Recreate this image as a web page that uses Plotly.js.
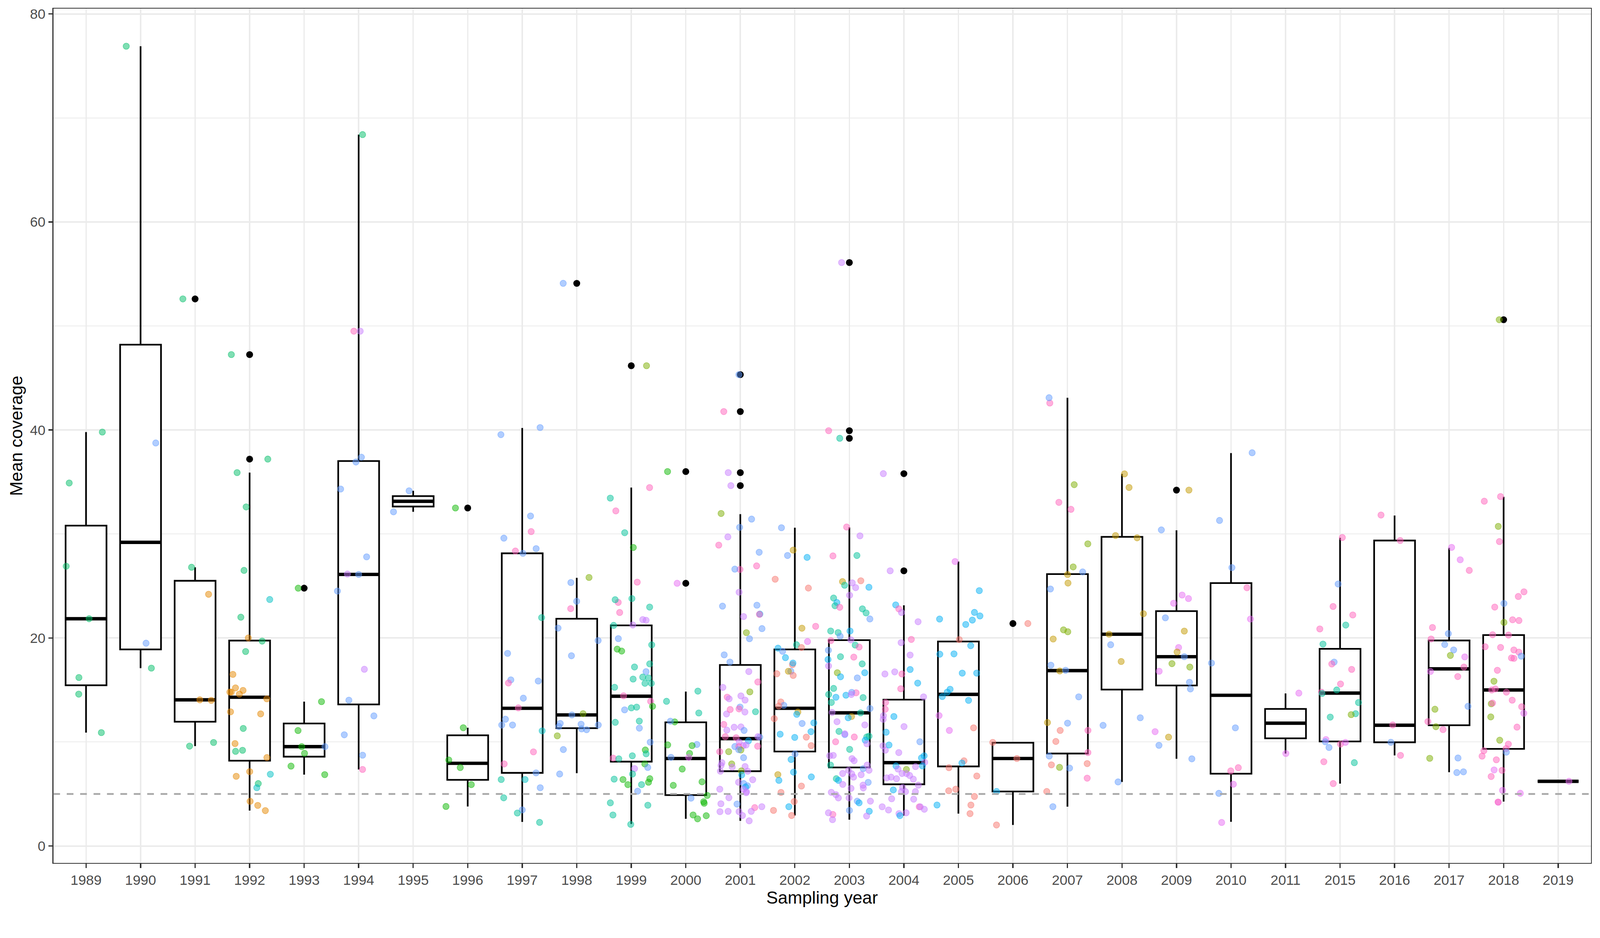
<!DOCTYPE html>
<html>
<head>
<meta charset="utf-8">
<script src="https://cdn.plot.ly/plotly-3.0.1.min.js"></script>
<style>html,body{margin:0;padding:0;background:#fff;overflow:hidden;}#chart{width:4200px;height:2400px;transform-origin:0 0;}</style>
</head>
<body>
<div id="chart"></div>
<script>
// ---------- data ----------
const years = ['1989','1990','1991','1992','1993','1994','1995','1996','1997','1998','1999','2000','2001','2002','2003','2004','2005','2006','2007','2008','2009','2010','2011','2015','2016','2017','2018','2019'];

// box statistics (lower whisker, Q1, median, Q3, upper whisker)
const boxQ1  = [15.45,18.9,11.95,8.2,8.59,13.61,32.64,6.36,7.03,11.33,8.11,4.89,7.19,9.08,7.55,5.93,7.65,5.24,8.89,15.04,15.43,6.95,10.35,10.05,9.97,11.61,9.34,6.22];
const boxMed = [21.85,29.2,14.05,14.3,9.55,26.11,33.14,7.95,13.24,12.6,14.4,8.41,10.32,13.24,12.8,8.01,14.58,8.41,16.86,20.36,18.2,14.49,11.81,14.7,11.61,17.03,15.0,6.22];
const boxQ3  = [30.8,48.2,25.5,19.75,11.78,37.01,33.64,10.64,28.14,21.85,21.21,11.89,17.41,18.9,19.79,14.07,19.66,9.93,26.14,29.72,22.58,25.28,13.18,18.96,29.37,19.76,20.28,6.22];
const boxLo  = [10.9,17.1,9.6,3.4,6.86,7.36,32.13,3.8,2.31,7.0,2.12,2.61,2.42,2.93,2.53,2.92,3.11,2.02,3.78,6.16,8.38,2.32,8.89,6.0,8.71,7.1,4.27,6.22];
const boxHi  = [39.8,76.9,26.8,35.9,13.88,68.4,34.15,11.37,40.19,25.78,34.46,14.85,31.91,30.6,30.63,23.14,27.35,9.96,43.1,35.78,30.36,37.78,14.67,29.63,31.78,28.67,33.57,6.22];

// outliers (black points)
const outYear = ['1991','1992','1992','1993','1996','1998','1999','2000','2000','2001','2001','2001','2001','2003','2003','2003','2004','2004','2006','2009','2018'];
const outVal  = [52.6,47.25,37.2,24.79,32.5,54.1,46.18,36.0,25.26,45.32,41.77,35.9,34.65,56.1,39.93,39.2,35.8,26.46,21.39,34.22,50.6];

// individual observations per year: [mean coverage, group]
const p1989 = [[39.8,'T'],[34.9,'T'],[26.9,'T'],[21.85,'T'],[16.2,'T'],[14.6,'T'],[10.9,'T']];
const p1990 = [[76.9,'T'],[38.75,'B'],[19.5,'B'],[17.1,'T']];
const p1991 = [[52.6,'T'],[26.8,'T'],[24.2,'O'],[14.0,'O'],[14.05,'O'],[9.95,'T'],[9.6,'T']];
const p1992 = [[47.25,'T'],[37.2,'T'],[35.9,'T'],[32.6,'T'],[26.5,'T'],[23.7,'C'],[22.0,'T'],[19.7,'T'],[20.0,'O'],[18.7,'T'],[16.5,'O'],[14.8,'O'],[14.15,'O'],[14.96,'O'],[14.8,'O'],[15.2,'O'],[14.6,'O'],[12.9,'O'],[12.7,'O'],[11.3,'T'],[9.85,'O'],[9.1,'T'],[9.2,'T'],[8.5,'O'],[6.9,'C'],[6.7,'O'],[7.15,'O'],[6.0,'T'],[5.6,'C'],[4.3,'O'],[3.9,'O'],[3.4,'O']];
const p1993 = [[24.79,'G'],[13.88,'G'],[11.1,'G'],[9.55,'B'],[9.55,'G'],[8.91,'G'],[7.68,'G'],[6.86,'G']];
const p1994 = [[68.4,'T'],[49.5,'P'],[49.5,'K'],[37.38,'B'],[36.92,'B'],[34.32,'B'],[27.8,'B'],[26.15,'P'],[26.11,'B'],[24.51,'B'],[16.99,'P'],[14.02,'B'],[12.51,'B'],[10.69,'B'],[8.73,'B'],[7.36,'K']];
const p1995 = [[34.15,'B'],[32.13,'B']];
const p1996 = [[32.5,'G'],[11.37,'G'],[8.27,'G'],[7.54,'G'],[5.9,'G'],[3.8,'G']];
const p1997 = [[40.23,'B'],[39.55,'B'],[31.73,'B'],[30.23,'K'],[29.6,'B'],[28.59,'B'],[28.36,'K'],[28.14,'B'],[21.96,'Q'],[18.52,'B'],[15.97,'B'],[15.86,'B'],[15.67,'K'],[14.21,'B'],[13.28,'K'],[12.19,'B'],[11.63,'B'],[11.63,'B'],[11.07,'C'],[9.05,'K'],[7.89,'K'],[7.03,'B'],[6.39,'Q'],[6.39,'C'],[5.6,'B'],[4.63,'Q'],[3.47,'B'],[3.17,'Q'],[2.27,'Q']];
const p1998 = [[54.1,'B'],[25.82,'L'],[25.33,'B'],[23.53,'B'],[22.82,'K'],[20.95,'B'],[19.75,'B'],[18.29,'B'],[12.72,'L'],[12.6,'B'],[11.78,'B'],[11.71,'B'],[11.63,'B'],[11.48,'B'],[11.26,'B'],[11.18,'B'],[10.59,'L'],[9.27,'B'],[6.92,'B']];
const p1999 = [[46.18,'L'],[34.46,'K'],[33.45,'Q'],[32.22,'K'],[30.12,'Q'],[28.7,'G'],[25.37,'K'],[23.79,'Q'],[23.42,'K'],[23.68,'Q'],[22.97,'Q'],[22.45,'K'],[21.7,'P'],[21.77,'P'],[21.25,'P'],[21.21,'Q'],[19.94,'B'],[18.93,'G'],[18.74,'G'],[19.34,'Q'],[17.51,'Q'],[17.21,'Q'],[16.76,'B'],[16.16,'Q'],[16.24,'Q'],[15.64,'Q'],[15.26,'Q'],[16.05,'Q'],[15.64,'Q'],[14.44,'K'],[13.91,'K'],[13.43,'G'],[13.35,'Q'],[13.09,'B'],[13.28,'Q'],[12.01,'Q'],[11.89,'Q'],[11.33,'B'],[9.98,'B'],[9.23,'G'],[8.67,'Q'],[8.86,'Q'],[8.45,'K'],[8.38,'Q'],[7.89,'G'],[7.55,'B'],[7.44,'P'],[6.92,'Q'],[6.43,'Q'],[6.47,'G'],[6.39,'G'],[5.9,'G'],[5.9,'Q'],[6.13,'G'],[5.27,'B'],[4.15,'Q'],[3.92,'Q'],[2.98,'Q'],[2.08,'Q']];
const p2000 = [[36.0,'G'],[25.26,'M'],[14.89,'Q'],[13.91,'Q'],[12.79,'Q'],[11.93,'G'],[12.0,'B'],[9.76,'B'],[9.72,'G'],[9.65,'G'],[8.9,'G'],[8.52,'M'],[8.52,'B'],[7.4,'G'],[6.17,'G'],[5.83,'G'],[4.86,'G'],[4.6,'B'],[4.11,'G'],[4.26,'G'],[2.98,'G'],[2.91,'G'],[2.61,'G']];
const p2001 = [[45.32,'B'],[41.77,'K'],[34.65,'P'],[35.9,'P'],[31.97,'L'],[31.43,'B'],[30.64,'B'],[29.72,'P'],[28.93,'K'],[28.24,'B'],[26.93,'K'],[26.59,'K'],[26.62,'B'],[24.4,'P'],[23.06,'B'],[23.15,'B'],[22.3,'S'],[22.27,'K'],[22.06,'P'],[20.51,'L'],[20.9,'B'],[19.93,'B'],[18.38,'B'],[17.68,'B'],[16.77,'P'],[15.77,'K'],[15.25,'P'],[14.82,'L'],[14.31,'K'],[14.43,'P'],[14.15,'P'],[14.03,'P'],[13.36,'B'],[13.18,'K'],[12.91,'Q'],[12.88,'P'],[12.69,'P'],[13.12,'K'],[11.45,'P'],[11.69,'K'],[11.14,'P'],[11.42,'P'],[11.11,'B'],[10.11,'S'],[10.47,'B'],[10.41,'K'],[10.51,'P'],[10.51,'K'],[9.99,'P'],[9.71,'P'],[9.65,'P'],[9.56,'B'],[9.56,'K'],[9.59,'K'],[9.07,'K'],[9.23,'L'],[9.26,'B'],[9.07,'L'],[8.49,'B'],[8.01,'P'],[7.89,'L'],[7.74,'P'],[7.58,'P'],[7.64,'P'],[7.22,'L'],[7.19,'P'],[7.19,'P'],[6.37,'P'],[6.13,'P'],[6.83,'S'],[6.0,'B'],[5.79,'B'],[5.67,'S'],[5.46,'P'],[5.22,'P'],[5.12,'P'],[5.46,'P'],[4.64,'P'],[4.03,'B'],[3.69,'K'],[3.33,'P'],[2.93,'P'],[3.78,'P'],[3.33,'P'],[3.3,'P'],[3.3,'P'],[4.06,'P'],[2.42,'P']];
const p2002 = [[30.6,'B'],[27.93,'B'],[27.75,'S'],[28.45,'D'],[25.65,'R'],[24.8,'R'],[21.12,'K'],[20.94,'D'],[19.66,'M'],[19.35,'Q'],[19.08,'R'],[19.02,'S'],[18.72,'B'],[18.11,'S'],[17.44,'R'],[17.59,'S'],[16.8,'B'],[16.8,'D'],[16.56,'R'],[16.4,'R'],[13.85,'R'],[13.52,'B'],[12.88,'D'],[13.46,'R'],[12.66,'S'],[12.24,'R'],[11.84,'S'],[11.78,'B'],[10.99,'S'],[10.44,'S'],[10.47,'R'],[10.75,'S'],[9.65,'R'],[8.86,'B'],[8.32,'S'],[7.1,'S'],[6.86,'D'],[6.31,'S'],[6.64,'S'],[5.76,'R'],[5.15,'R'],[3.78,'S'],[4.27,'R'],[3.42,'R'],[2.93,'R']];
const p2003 = [[56.1,'P'],[39.93,'K'],[39.2,'Q'],[30.67,'K'],[29.82,'P'],[27.93,'Q'],[27.89,'K'],[25.42,'D'],[25.5,'R'],[25.3,'P'],[24.84,'P'],[25.07,'Q'],[24.88,'S'],[24.11,'P'],[23.84,'Q'],[23.41,'S'],[23.1,'Q'],[22.95,'K'],[22.8,'Q'],[22.41,'Q'],[21.83,'B'],[20.67,'Q'],[20.67,'S'],[20.52,'Q'],[20.17,'B'],[19.82,'P'],[19.75,'K'],[19.32,'Q'],[19.13,'K'],[18.82,'B'],[18.16,'K'],[18.2,'Q'],[17.51,'Q'],[17.93,'S'],[17.31,'P'],[16.66,'S'],[16.66,'L'],[16.16,'B'],[16.27,'S'],[15.15,'Q'],[14.73,'K'],[14.57,'Q'],[14.77,'B'],[14.5,'S'],[14.57,'P'],[14.27,'Q'],[14.3,'S'],[13.8,'Q'],[13.22,'B'],[12.84,'P'],[12.45,'D'],[12.33,'S'],[12.8,'Q'],[11.95,'P'],[11.64,'P'],[10.71,'B'],[11.02,'Q'],[10.48,'K'],[10.48,'Q'],[10.79,'P'],[10.56,'Q'],[10.17,'S'],[10.02,'K'],[9.83,'P'],[9.29,'Q'],[8.71,'P'],[8.4,'P'],[8.67,'P'],[8.2,'P'],[7.78,'Q'],[7.43,'B'],[7.78,'P'],[7.28,'P'],[7.28,'P'],[6.62,'P'],[6.93,'P'],[6.47,'Q'],[6.97,'P'],[6.85,'P'],[6.12,'B'],[6.31,'S'],[5.92,'P'],[5.54,'P'],[5.58,'P'],[5.85,'P'],[5.16,'P'],[4.93,'P'],[4.62,'P'],[4.62,'P'],[4.31,'B'],[4.31,'P'],[4.15,'S'],[3.42,'B'],[3.34,'S'],[3.03,'K'],[3.19,'P'],[2.88,'P'],[2.53,'P']];
const p2004 = [[35.8,'P'],[26.46,'P'],[23.18,'S'],[22.8,'K'],[22.45,'P'],[21.56,'P'],[19.55,'P'],[19.86,'K'],[18.36,'P'],[16.97,'S'],[16.74,'P'],[16.54,'P'],[16.54,'K'],[15.66,'S'],[15.12,'K'],[14.34,'P'],[13.8,'K'],[13.15,'K'],[12.53,'P'],[12.45,'S'],[12.18,'P'],[11.48,'P'],[10.94,'S'],[9.21,'P'],[9.71,'S'],[10.02,'B'],[9.63,'P'],[8.98,'P'],[8.47,'S'],[8.67,'S'],[8.05,'P'],[7.7,'S'],[7.7,'S'],[7.36,'L'],[7.63,'P'],[6.97,'P'],[6.78,'P'],[6.97,'P'],[6.47,'P'],[6.43,'P'],[6.62,'P'],[6.55,'P'],[7.4,'P'],[5.85,'P'],[5.39,'S'],[5.23,'P'],[5.23,'P'],[5.62,'P'],[5.23,'P'],[4.54,'P'],[4.5,'P'],[3.53,'P'],[3.46,'P'],[3.77,'P'],[3.77,'K'],[3.77,'P'],[3.11,'P'],[2.92,'S'],[3.19,'P']];
const p2005 = [[27.35,'M'],[24.55,'S'],[22.46,'S'],[22.12,'S'],[21.82,'S'],[21.72,'S'],[21.3,'S'],[19.84,'R'],[19.26,'S'],[18.44,'S'],[18.47,'S'],[16.62,'S'],[16.62,'S'],[15.07,'S'],[14.79,'S'],[14.37,'S'],[14.0,'S'],[12.54,'M'],[11.11,'M'],[11.36,'R'],[8.19,'R'],[7.98,'S'],[7.53,'R'],[6.73,'R'],[5.46,'R'],[5.31,'R'],[4.76,'R'],[3.94,'S'],[3.94,'R'],[3.11,'R']];
const p2006 = [[21.39,'R'],[9.96,'R'],[8.41,'R'],[5.24,'S'],[2.02,'R']];
const p2007 = [[42.59,'K'],[43.1,'B'],[34.74,'L'],[33.04,'K'],[32.37,'K'],[29.05,'L'],[26.83,'L'],[26.35,'B'],[26.1,'D'],[25.28,'D'],[24.71,'B'],[19.9,'D'],[20.6,'L'],[20.78,'L'],[17.38,'B'],[16.83,'D'],[16.89,'B'],[14.34,'B'],[11.87,'D'],[11.81,'B'],[11.11,'R'],[11.11,'K'],[10.05,'R'],[8.98,'K'],[8.65,'B'],[7.92,'R'],[7.56,'L'],[7.8,'R'],[7.49,'B'],[6.52,'K'],[5.24,'R'],[3.78,'B']];
const p2008 = [[35.78,'D'],[34.47,'D'],[29.85,'D'],[29.63,'D'],[22.33,'D'],[20.36,'D'],[19.35,'B'],[17.74,'D'],[12.33,'B'],[11.6,'B'],[6.16,'B']];
const p2009 = [[34.22,'D'],[30.39,'B'],[24.13,'M'],[23.79,'M'],[23.34,'M'],[21.94,'B'],[20.66,'D'],[19.08,'M'],[18.65,'D'],[18.2,'B'],[17.53,'L'],[17.2,'L'],[16.8,'M'],[15.74,'B'],[15.1,'B'],[10.47,'D'],[10.99,'M'],[9.68,'B'],[8.38,'B']];
const p2010 = [[37.81,'B'],[31.3,'B'],[26.77,'B'],[24.83,'K'],[21.82,'M'],[17.59,'B'],[11.36,'B'],[7.53,'K'],[7.22,'K'],[5.94,'M'],[5.06,'B'],[2.26,'M']];
const p2011 = [[14.7,'M'],[8.89,'M']];
const p2015 = [[29.66,'K'],[25.19,'B'],[23.03,'K'],[22.21,'K'],[21.24,'Q'],[20.87,'K'],[19.41,'Q'],[17.68,'B'],[17.5,'K'],[16.98,'K'],[15.58,'K'],[15.0,'Q'],[14.79,'K'],[14.67,'Q'],[13.79,'Q'],[12.72,'Q'],[12.63,'L'],[12.39,'Q'],[10.23,'M'],[9.8,'K'],[9.96,'M'],[10.02,'B'],[9.47,'B'],[8.1,'K'],[8.01,'Q'],[6.0,'K']];
const p2016 = [[31.82,'K'],[29.37,'K'],[11.64,'K'],[9.97,'B'],[8.71,'K']];
const p2017 = [[28.71,'M'],[27.52,'M'],[26.5,'K'],[21.01,'K'],[20.42,'B'],[19.9,'K'],[19.37,'B'],[18.85,'B'],[18.32,'L'],[18.18,'M'],[17.2,'K'],[16.78,'M'],[16.29,'K'],[13.43,'B'],[13.15,'L'],[11.96,'K'],[11.47,'L'],[11.19,'K'],[8.43,'L'],[8.46,'B'],[7.06,'B'],[7.13,'B']];
const p2018 = [[50.6,'L'],[33.6,'K'],[33.15,'K'],[30.73,'L'],[29.27,'K'],[24.44,'K'],[23.99,'K'],[23.32,'B'],[22.97,'K'],[21.5,'L'],[21.75,'K'],[21.68,'K'],[20.31,'K'],[20.28,'K'],[19.16,'K'],[18.85,'K'],[19.09,'K'],[18.64,'K'],[18.08,'K'],[18.25,'B'],[18.04,'K'],[16.89,'K'],[15.84,'L'],[15.1,'K'],[14.79,'K'],[15.0,'K'],[13.67,'L'],[14.02,'K'],[13.39,'K'],[13.74,'K'],[12.76,'M'],[12.41,'L'],[11.43,'K'],[10.17,'L'],[9.79,'K'],[9.37,'K'],[9.02,'B'],[9.16,'K'],[8.64,'K'],[8.29,'K'],[7.27,'K'],[7.31,'M'],[6.68,'K'],[5.35,'M'],[5.07,'M'],[4.2,'M'],[4.23,'K']];
const p2019 = [[6.22,'M']];

const pointSets = [p1989,p1990,p1991,p1992,p1993,p1994,p1995,p1996,p1997,p1998,p1999,p2000,p2001,p2002,p2003,p2004,p2005,p2006,p2007,p2008,p2009,p2010,p2011,p2015,p2016,p2017,p2018,p2019];

// ---------- styling ----------
const groupColors = {T:'0,190,103', G:'12,183,2', O:'229,135,0', C:'0,191,196', S:'0,176,246', Q:'0,193,154',
  B:'97,156,255', P:'199,124,255', M:'231,107,243', K:'255,98,188', R:'248,118,109', D:'196,154,0', L:'124,174,0'};
const ALPHA = 0.5;
const BOX_W = 0.75;
const JITTER = 0.4;
const FONT = 'Liberation Sans, Arial, Helvetica, sans-serif';

// deterministic jitter generator
function mulberry32(a){return function(){a|=0;a=a+0x6D2B79F5|0;let t=Math.imul(a^a>>>15,1|a);t=t+Math.imul(t^t>>>7,61|t)^t;return((t^t>>>14)>>>0)/4294967296;};}
const rand = mulberry32(20240611);

const idx = years.map((_, i) => i);
const yearIndex = y => years.indexOf(y);

const boxTrace = {
  type: 'box', x: idx, q1: boxQ1, median: boxMed, q3: boxQ3, lowerfence: boxLo, upperfence: boxHi,
  boxpoints: false, width: BOX_W, whiskerwidth: 0,
  line: {color: '#000000', width: 4.4}, fillcolor: '#ffffff',
  hoverinfo: 'skip', showlegend: false
};

const medX = [], medY = [];
idx.forEach(i => { medX.push(i - BOX_W/2, i + BOX_W/2, null); medY.push(boxMed[i], boxMed[i], null); });
const medianTrace = {type:'scatter', mode:'lines', x: medX, y: medY, line:{color:'#000000', width: 8.9}, hoverinfo:'skip', showlegend:false};

const outlierTrace = {type:'scatter', mode:'markers', x: outYear.map(yearIndex), y: outVal,
  marker:{color:'#000000', size: 18, line:{width:0}}, hoverinfo:'skip', showlegend:false};

const jx = [], jy = [], jc = [];
pointSets.forEach((set, i) => {
  set.forEach(([v, g]) => {
    jx.push(i + (rand()*2 - 1) * JITTER);
    jy.push(v);
    jc.push('rgba(' + groupColors[g] + ',' + ALPHA + ')');
  });
});
const jitterTrace = {type:'scatter', mode:'markers', x: jx, y: jy,
  marker:{color: jc, size: 16.5, line:{color: jc, width: 1.6}}, hoverinfo:'skip', showlegend:false};

const layout = {
  width: 4200, height: 2400,
  margin: {l: 140, r: 24, t: 23, b: 136},
  paper_bgcolor: '#ffffff', plot_bgcolor: '#ffffff',
  font: {family: FONT},
  showlegend: false,
  xaxis: {
    type: 'linear', range: [-0.6, 27.6], tickmode: 'array', tickvals: idx, ticktext: years,
    showgrid: true, gridcolor: '#EBEBEB', gridwidth: 3.5, zeroline: false,
    showline: true, linecolor: '#333333', linewidth: 2.2, mirror: true,
    ticks: 'outside', ticklen: 11, tickwidth: 3.5, tickcolor: '#333333',
    tickfont: {size: 36.7, color: '#4D4D4D', family: FONT},
    title: {text: 'Sampling year', font: {size: 45.8, color: '#000000', family: FONT}, standoff: 0},
    automargin: false
  },
  yaxis: {
    range: [-1.63, 80.5], tickmode: 'array', tickvals: [0,20,40,60,80],
    showgrid: true, gridcolor: '#EBEBEB', gridwidth: 4, zeroline: false,
    minor: {tickmode: 'array', tickvals: [10,30,50,70], showgrid: true, gridcolor: '#EBEBEB', gridwidth: 2, ticks: ''},
    showline: true, linecolor: '#333333', linewidth: 2.2, mirror: true,
    ticks: 'outside', ticklen: 11, tickwidth: 3.5, tickcolor: '#333333',
    tickfont: {size: 36.7, color: '#4D4D4D', family: FONT},
    title: {text: 'Mean coverage', font: {size: 45.8, color: '#000000', family: FONT}, standoff: 5},
    automargin: false
  },
  shapes: [{type:'line', xref:'paper', x0:0, x1:1, yref:'y', y0:5, y1:5,
    line:{color:'#A8A8A8', width:4.4, dash:'17.6px,17.6px'}, layer:'above'}]
};

// fit the 4200x2400 figure into the actual viewport
const chartDiv = document.getElementById('chart');
const fit = Math.min(window.innerWidth / 4200, window.innerHeight / 2400);
if (fit > 0 && Math.abs(fit - 1) > 0.001) chartDiv.style.transform = 'scale(' + fit + ')';

Plotly.newPlot(chartDiv, [boxTrace, medianTrace, outlierTrace, jitterTrace], layout, {staticPlot: true, displayModeBar: false});
</script>
</body>
</html>
